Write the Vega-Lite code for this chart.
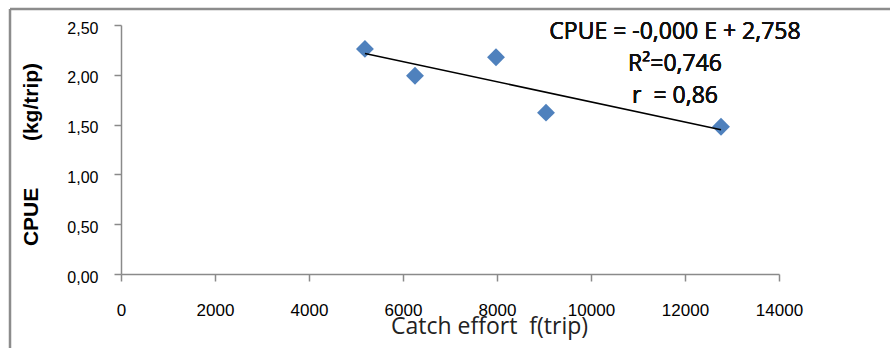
{
  "$schema": "https://vega.github.io/schema/vega-lite/v6.json",
  "autosize": {"type": "none"},
  "padding": {"left": 10, "top": 9, "right": 1, "bottom": 1},
  "width": 880,
  "height": 339,
  "background": "white",
  "view": {"stroke": "#8c8c8c", "strokeWidth": 2.5, "strokeDash": [880, 1219, 339, 0]},
  "config": {
    "locale": {"number": {"decimal": ",", "thousands": ".", "grouping": [3], "currency": ["", ""]}},
    "axis": {"grid": false}
  },
  "data": {"values": [
    {"E": 5190, "CPUE": 2.26},
    {"E": 6255, "CPUE": 1.99},
    {"E": 7979, "CPUE": 2.176},
    {"E": 9043, "CPUE": 1.62},
    {"E": 12766, "CPUE": 1.479}
  ]},
  "encoding": {
    "x": {"field": "E", "type": "quantitative",
      "scale": {"domain": [0, 14000], "range": [111, 769], "nice": false, "zero": false},
      "axis": {"values": [0, 2000, 4000, 6000, 8000, 10000, 12000, 14000], "format": "d",
        "offset": -74, "domainColor": "#8a8a8a", "domainWidth": 1.5, "tickColor": "#8a8a8a", "tickWidth": 1.5, "tickSize": 7,
        "labelFont": "Liberation Sans", "labelFontSize": 17, "labelColor": "#000", "labelPadding": 21,
        "labelFlush": false, "labelOverlap": false, "labelBound": false,
        "title": "Catch effort\u00a0\u00a0f(trip)", "titleFont": "Open Sans", "titleFontSize": 23, "titleFontWeight": "normal", "titleColor": "#222",
        "titleX": 479, "titleY": 59, "titleBaseline": "alphabetic", "titleAlign": "center"}},
    "y": {"field": "CPUE", "type": "quantitative",
      "scale": {"domain": [0, 2.5], "range": [265, 16], "nice": false, "zero": false},
      "axis": {"values": [0, 0.5, 1, 1.5, 2, 2.5], "format": ".2f",
        "offset": -111, "domainColor": "#8a8a8a", "domainWidth": 1.5, "tickColor": "#8a8a8a", "tickWidth": 1.5, "tickSize": 7,
        "labelFont": "Liberation Sans", "labelFontSize": 16, "labelColor": "#000", "labelPadding": 16, "labelOffset": 3,
        "labelFlush": false, "labelOverlap": false, "labelBound": false,
        "title": "CPUE\u00a0\u00a0\u00a0\u00a0\u00a0\u00a0\u00a0\u00a0(kg/trip)", "titleFont": "Liberation Sans", "titleFontSize": 21, "titleFontWeight": "bold", "titleColor": "#000",
        "titleX": -84, "titleY": 145, "titleBaseline": "alphabetic", "titleAlign": "center", "titleAngle": -90}}
  },
  "layer": [
    {"mark": {"type": "point", "shape": "diamond", "filled": true, "size": 320, "color": "#4f81bd", "opacity": 1}},
    {"transform": [{"regression": "CPUE", "on": "E"}],
     "mark": {"type": "line", "color": "#000", "strokeWidth": 1.5}},
    {"mark": {"type": "text", "font": "Open Sans", "fontSize": 23, "fontWeight": "normal", "color": "#111", "align": "center", "baseline": "middle", "lineHeight": 32},
     "encoding": {
       "x": {"datum": 11787, "type": "quantitative"},
       "y": {"datum": 2.43, "type": "quantitative"},
       "text": {"value": ["CPUE = -0,000 E + 2,758", "R²=0,746", "r\u00a0\u00a0= 0,86"]}
     }}
  ]
}
